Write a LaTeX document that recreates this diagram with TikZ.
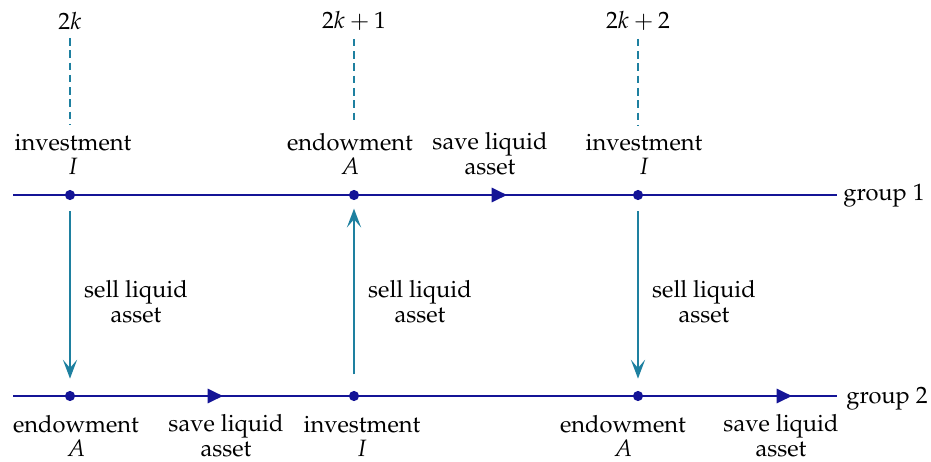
\documentclass[tikz,border=0pt]{standalone}
\usepackage[T1]{fontenc}
\usepackage{mathpazo}
\usetikzlibrary{arrows.meta}
\definecolor{navy}{RGB}{20,20,150}
\definecolor{tealc}{RGB}{30,128,160}
\begin{document}
\begin{tikzpicture}[x=0.423pt,y=-0.423pt,
  timeline/.style={navy,line width=1.05pt},
  dotnode/.style={circle,fill=navy,inner sep=0pt,minimum size=4.3pt},
  dashline/.style={tealc,line width=1pt,dash pattern=on 3.2pt off 2pt},
  transfer/.style={tealc,line width=0.9pt,-{Stealth[length=8pt,width=6pt,inset=3.5pt]}},
  midtip/.style={-{Triangle[length=6.5pt,width=6pt]}},
  lbl/.style={align=center,inner sep=0pt,anchor=south,font=\fontsize{10}{10.3}\selectfont},
  timelbl/.style={anchor=base,inner sep=0pt,font=\fontsize{10}{12}\selectfont},
  grouplbl/.style={anchor=base west,inner sep=0pt,font=\fontsize{10}{12}\selectfont}]
\useasboundingbox (0,0) rectangle (931,461);

% dots
\node[dotnode] (u0) at (70,195) {};
\node[dotnode] (u1) at (354,195) {};
\node[dotnode] (u2) at (638,195) {};
\node[dotnode] (d0) at (70,396) {};
\node[dotnode] (d1) at (354,396) {};
\node[dotnode] (d2) at (638,396) {};

% timelines
\coordinate (ustart) at (13,195);
\coordinate (uend) at (837,195);
\coordinate (utip) at (507,195);
\coordinate (dstart) at (13,396);
\coordinate (dend) at (837,396);
\coordinate (dtipa) at (223,396);
\coordinate (dtipb) at (792,396);
\draw[timeline] (ustart) -- (uend);
\draw[timeline] (dstart) -- (dend);
\draw[timeline,midtip] (u1) -- (utip);
\draw[timeline,midtip] (d0) -- (dtipa);
\draw[timeline,midtip] (d2) -- (dtipb);
\node[grouplbl] (g1) at (843,200) {group 1};
\node[grouplbl] (g2) at (846,403) {group 2};

% time labels
\node[timelbl] (t0) at (70,29) {$2k$};
\node[timelbl] (t1) at (354,28) {$2k+1$};
\node[timelbl] (t2) at (638,28) {$2k+2$};

% labels above group 1
\node[lbl] (lu0) at (73,175) {investment\\$I$};
\node[lbl] (lu1) at (350,175) {endowment\\$A$};
\node[lbl] (lus) at (490,175) {save liquid\\asset};
\node[lbl] (lu2) at (644,175) {investment\\$I$};

% dashed guides
\draw[dashline,shorten <=3.5pt,shorten >=3.5pt] (t0.south) -- (t0.south |- lu0.north);
\draw[dashline,shorten <=3.5pt,shorten >=3.5pt] (t1.south) -- (t1.south |- lu1.north);
\draw[dashline,shorten <=3.5pt,shorten >=3.5pt] (t2.south) -- (t2.south |- lu2.north);

% transfers
\draw[transfer,shorten <=4.6pt,shorten >=5pt] (u0) -- (d0);
\draw[transfer,shorten <=6.8pt,shorten >=3.4pt] (d1) -- (u1);
\draw[transfer,shorten <=4.6pt,shorten >=5pt] (u2) -- (d2);
\node[lbl] (s0) at (136,323) {sell liquid\\asset};
\node[lbl] (s1) at (420,323) {sell liquid\\asset};
\node[lbl] (s2) at (704,323) {sell liquid\\asset};

% labels below group 2
\node[lbl] (ld0) at (76,457) {endowment\\$A$};
\node[lbl] (lds0) at (226,457) {save liquid\\asset};
\node[lbl] (ld1) at (362,457) {investment\\$I$};
\node[lbl] (ld2) at (623,457) {endowment\\$A$};
\node[lbl] (lds2) at (781,457) {save liquid\\asset};
\end{tikzpicture}
\end{document}
